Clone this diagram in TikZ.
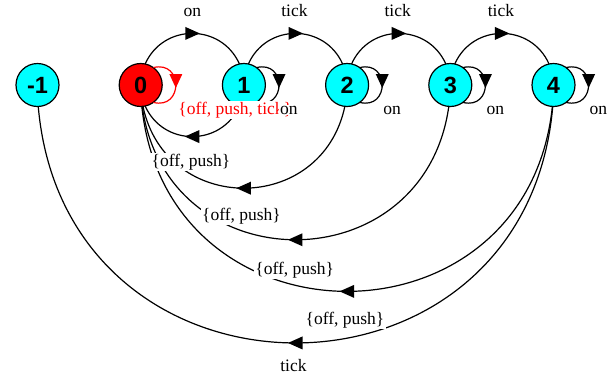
\documentclass[tikz,border=0pt]{standalone}
\usepackage{fontspec}
\setmainfont{Liberation Serif}
\newfontfamily\statefont{Liberation Sans}
\usetikzlibrary{decorations.markings}
\definecolor{statecyan}{HTML}{00FFFF}
\definecolor{statered}{HTML}{FF0000}
\tikzset{
  stnode/.style={circle, draw=black, line width=1.2pt, fill=statecyan, minimum size=43pt,
    inner sep=0pt, outer sep=0pt, font=\statefont\bfseries\fontsize{23.5}{26}\selectfont},
  conn/.style={draw=#1, line width=1.2pt, postaction={decorate},
    decoration={markings, mark=at position 0.5 with {\fill[#1] (-7pt,-6.5pt) -- (7.5pt,0pt) -- (-7pt,6.5pt) -- cycle;}}},
  conn/.default=black,
  loopconn/.style={draw=#1, line width=1.2pt, postaction={decorate},
    decoration={markings, mark=at position 0.5 with {\fill[#1] (-11pt,-6.5pt) -- (3pt,0pt) -- (-11pt,6.5pt) -- cycle;}}},
  loopconn/.default=black,
  lbl/.style={fill=white, inner xsep=1.5pt, inner ysep=1pt, text=#1,
    font=\fontsize{17.5}{20}\selectfont},
  lbl/.default=black,
}
\begin{document}
\begin{tikzpicture}[x=1pt,y=1pt]
\useasboundingbox (0,0) rectangle (613,-381);
% states
\node[stnode] (nm1) at (37.5,-85) {-1};
\node[stnode, fill=statered] (n0) at (140.7,-85) {0};
\node[stnode] (n1) at (243.9,-85) {1};
\node[stnode] (n2) at (347.1,-85) {2};
\node[stnode] (n3) at (450.3,-85) {3};
\node[stnode] (n4) at (553.5,-85) {4};
% forward arcs
\draw[conn] (n0.78) to[out=66,in=114,distance=44.6pt] (n1.102);
\draw[conn] (n1.78) to[out=66,in=114,distance=44.6pt] (n2.102);
\draw[conn] (n2.78) to[out=66,in=114,distance=44.6pt] (n3.102);
\draw[conn] (n3.78) to[out=66,in=114,distance=44.6pt] (n4.102);
% self loops
\draw[loopconn=statered] (n0.54) to[out=14,in=-14,distance=30.9pt] (n0.-54);
\draw[loopconn] (n1.54) to[out=14,in=-14,distance=30.9pt] (n1.-54);
\draw[loopconn] (n2.54) to[out=14,in=-14,distance=30.9pt] (n2.-54);
\draw[loopconn] (n3.54) to[out=14,in=-14,distance=30.9pt] (n3.-54);
\draw[loopconn] (n4.54) to[out=14,in=-14,distance=30.9pt] (n4.-54);
% backward arcs
\draw[conn] (n1.-102) to[out=-114,in=-66,distance=44.6pt] (n0.-78);
\draw[conn] (n2.-96) to[out=-102,in=-78,distance=111.5pt] (n0.-84);
\draw[conn] (n3.-94) to[out=-98,in=-82,distance=179.5pt] (n0.-86);
\draw[conn] (n4.-93) to[out=-96,in=-84,distance=247.9pt] (n0.-87);
\draw[conn] (n4.-92) to[out=-95,in=-85,distance=316.5pt] (nm1.-88);
% labels of forward arcs
\node[lbl, anchor=base] (l01) at (192.3,-16) {on};
\node[lbl, anchor=base] (l12) at (294.5,-16) {tick};
\node[lbl, anchor=base] (l23) at (397.7,-16) {tick};
\node[lbl, anchor=base] (l34) at (500.9,-16) {tick};
% labels of backward arcs
\node[lbl, anchor=base] (l10) at (191,-166) {\{off, push\}};
\node[lbl, anchor=base] (l20) at (241.5,-220) {\{off, push\}};
\node[lbl, anchor=base] (l30) at (294.7,-274) {\{off, push\}};
\node[lbl, anchor=base] (l40) at (345,-324) {\{off, push\}};
\node[lbl, anchor=base] (l4m1) at (293.4,-371) {tick};
% labels of loops
\node[lbl=statered, anchor=base west] (l00) at (176.7,-114) {\{off, push, tick\}};
\node[lbl, anchor=base west] (l11) at (278.4,-114) {on};
\node[lbl, anchor=base west] (l22) at (381.6,-114) {on};
\node[lbl, anchor=base west] (l33) at (484.8,-114) {on};
\node[lbl, anchor=base west] (l44) at (588,-114) {on};
\end{tikzpicture}
\end{document}
